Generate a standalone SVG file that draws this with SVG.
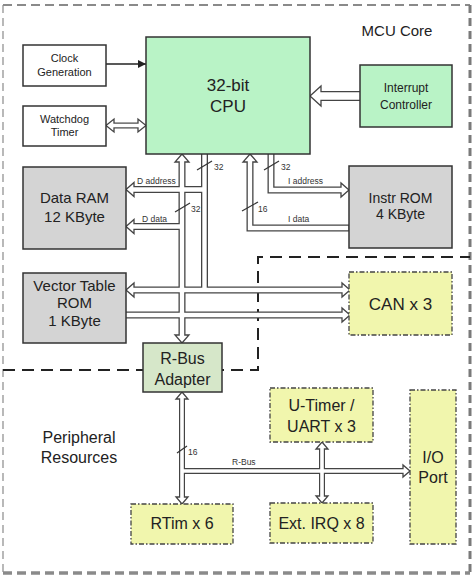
<svg xmlns="http://www.w3.org/2000/svg" width="474" height="575" viewBox="0 0 474 575">
<defs>
<style>
.t{font-family:"Liberation Sans",Arial,sans-serif;fill:#222;text-anchor:middle}
.s{font-family:"Liberation Sans",Arial,sans-serif;fill:#333;font-size:8.5px}
.box{stroke:#333;stroke-width:1.5}
.gray{fill:#d4d4d4}
.green{fill:#b9f3c6}
.sage{fill:#d6e7c9}
.yel{fill:#f1f6ad;stroke:#444;stroke-width:1.3;stroke-dasharray:5 2 1.5 2}
.case{fill:none;stroke:#444;stroke-width:7;stroke-linejoin:miter;stroke-linecap:butt}
.inner{fill:none;stroke:#fff;stroke-width:4.4;stroke-linejoin:miter;stroke-linecap:butt}
.head{fill:#fff;stroke:#444;stroke-width:1.3;stroke-linejoin:miter}
.tick{stroke:#333;stroke-width:1.2}
</style>
<marker id="ah" viewBox="0 0 10 10" refX="10" refY="5" markerWidth="8" markerHeight="8" orient="auto" markerUnits="userSpaceOnUse">
<path d="M0,0 L10,5 L0,10 Z" fill="#222"/>
</marker>
</defs>
<rect width="474" height="575" fill="#fff"/>
<!-- region borders -->
<g id="borders" fill="none">
<line x1="3" y1="5" x2="470" y2="5" stroke="#8a8a8a" stroke-width="2" stroke-dasharray="9 5"/>
<line x1="470" y1="5" x2="470" y2="573" stroke="#7a7a7a" stroke-width="3" stroke-dasharray="8 5"/>
<line x1="3" y1="573" x2="470" y2="573" stroke="#8a8a8a" stroke-width="3.5" stroke-dasharray="9 5"/>
<line x1="3" y1="5" x2="3" y2="573" stroke="#8a8a8a" stroke-width="1.2" stroke-dasharray="8 5"/>
<path d="M3,370 H258 V257 H470" stroke="#222" stroke-width="2" stroke-dasharray="12 7"/>
<text class="t" x="397" y="36" font-size="15">MCU Core</text>
<text class="t" x="79" y="443" font-size="16">Peripheral</text>
<text class="t" x="79" y="463" font-size="16">Resources</text>
</g>
<!-- connectors -->
<g id="connectors">
<line x1="106" y1="64" x2="146" y2="64" stroke="#222" stroke-width="1.3" marker-end="url(#ah)"/>
<!-- casings -->
<g class="case">
<path d="M182,160 V337"/>
<path d="M182,226.5 H132"/>
<path d="M126,315 H343"/>
<path d="M204.5,154 V290"/>
<path d="M204.5,189.5 H132"/>
<path d="M132,290 H343"/>
<path d="M250,160 V228 H349"/>
<path d="M271,154 V190 H342"/>
<path d="M182,398 V498" stroke-width="6"/>
<path d="M182,471 H404" stroke-width="6"/>
<path d="M322,448 V497" stroke-width="6"/>
<path d="M113,125.5 H139" stroke-width="6"/>
<path d="M360,96 H319" stroke-width="10"/>
</g>
<!-- heads -->
<g class="head">
<polygon points="182,154 189,162 175,162"/>
<polygon points="182,343 189,335 175,335"/>
<polygon points="126,226.5 134,219.5 134,233.5"/>
<polygon points="350,315 342,308 342,322"/>
<polygon points="126,189.5 134,182.5 134,196.5"/>
<polygon points="126,290 134,283 134,297"/>
<polygon points="350,290 342,283 342,297"/>
<polygon points="250,154 257,162 243,162"/>
<polygon points="349,190 341,183 341,197"/>
<polygon points="182,392 188,399 176,399"/>
<polygon points="182,504 188,497 176,497"/>
<polygon points="410,471 403,465 403,477"/>
<polygon points="322,442 328,449 316,449"/>
<polygon points="322,503 328,496 316,496"/>
<polygon points="106,125.5 114,119 114,132"/>
<polygon points="146,125.5 138,119 138,132"/>
<polygon points="310,96 321,86 321,106"/>
</g>
<!-- inner whites -->
<g class="inner">
<path d="M182,159 V338"/>
<path d="M182,226.5 H131"/>
<path d="M126,315 H344"/>
<path d="M204.5,153 V290"/>
<path d="M204.5,189.5 H131"/>
<path d="M131,290 H344"/>
<path d="M250,159 V228 H348.5"/>
<path d="M271,153 V190 H343"/>
<path d="M182,397 V499" stroke-width="3.6"/>
<path d="M182,471 H405" stroke-width="3.6"/>
<path d="M322,447 V498" stroke-width="3.6"/>
<path d="M112,125.5 H140" stroke-width="3.6"/>
<path d="M361,96 H318" stroke-width="7.6"/>
</g>
<!-- bus width ticks -->
<line class="tick" x1="197" y1="170" x2="212" y2="161"/>
<line class="tick" x1="175" y1="212" x2="190" y2="203"/>
<line class="tick" x1="264" y1="170" x2="279" y2="161"/>
<line class="tick" x1="242" y1="211" x2="258" y2="202"/>
<line class="tick" x1="177" y1="453" x2="187" y2="446"/>
<text class="s" x="214" y="170">32</text>
<text class="s" x="191" y="212">32</text>
<text class="s" x="281" y="170">32</text>
<text class="s" x="258" y="212">16</text>
<text class="s" x="188" y="455" font-size="7">16</text>
<text class="s" x="137" y="184">D address</text>
<text class="s" x="142" y="222">D data</text>
<text class="s" x="288" y="184">I address</text>
<text class="s" x="288" y="222">I data</text>
<text class="s" x="232" y="465" font-size="7">R-Bus</text>
</g>
<!-- nodes -->
<g id="clock"><rect class="box" x="23" y="45" width="83" height="41" fill="#fff"/>
<text class="t" x="64.5" y="62" font-size="11">Clock</text><text class="t" x="64.5" y="76" font-size="11">Generation</text></g>
<g id="watchdog"><rect class="box" x="23" y="106" width="83" height="40" fill="#fff"/>
<text class="t" x="64.5" y="123" font-size="11">Watchdog</text><text class="t" x="64.5" y="136" font-size="11">Timer</text></g>
<g id="cpu"><rect class="box green" x="146" y="37" width="164" height="117"/>
<text class="t" x="228" y="91" font-size="17">32-bit</text><text class="t" x="228" y="112" font-size="17">CPU</text></g>
<g id="interrupt"><rect class="box green" x="360" y="65" width="92" height="62"/>
<text class="t" x="406" y="92" font-size="12">Interrupt</text><text class="t" x="406" y="109" font-size="12">Controller</text></g>
<g id="dataram"><rect class="box gray" x="23" y="167" width="103" height="82"/>
<text class="t" x="74.5" y="203" font-size="15">Data RAM</text><text class="t" x="74.5" y="222" font-size="15">12 KByte</text></g>
<g id="instrrom"><rect class="box gray" x="349" y="166" width="103" height="82"/>
<text class="t" x="400.5" y="203" font-size="14">Instr ROM</text><text class="t" x="400.5" y="219" font-size="14">4 KByte</text></g>
<g id="vectortable"><rect class="box gray" x="23" y="273" width="103" height="70"/>
<text class="t" x="74.5" y="291" font-size="15">Vector Table</text><text class="t" x="74.5" y="308" font-size="15">ROM</text><text class="t" x="74.5" y="326" font-size="15">1 KByte</text></g>
<g id="can"><rect class="yel" x="349" y="272" width="103" height="63"/>
<text class="t" x="400.5" y="310" font-size="17">CAN x 3</text></g>
<g id="rbusadapter"><rect class="box sage" x="143" y="343" width="79" height="49"/>
<text class="t" x="182.5" y="364" font-size="16">R-Bus</text><text class="t" x="182.5" y="385" font-size="16">Adapter</text></g>
<g id="rtim"><rect class="yel" x="131" y="504" width="102" height="40"/>
<text class="t" x="182" y="529" font-size="16">RTim x 6</text></g>
<g id="utimer"><rect class="yel" x="270" y="388" width="103" height="54"/>
<text class="t" x="321.5" y="411" font-size="16">U-Timer /</text><text class="t" x="321.5" y="432" font-size="16">UART x 3</text></g>
<g id="extirq"><rect class="yel" x="270" y="503" width="103" height="40"/>
<text class="t" x="321.5" y="529" font-size="16">Ext. IRQ x 8</text></g>
<g id="ioport"><rect class="yel" x="410" y="390" width="46" height="154"/>
<text class="t" x="433" y="463" font-size="16">I/O</text><text class="t" x="433" y="483" font-size="16">Port</text></g>
</svg>
